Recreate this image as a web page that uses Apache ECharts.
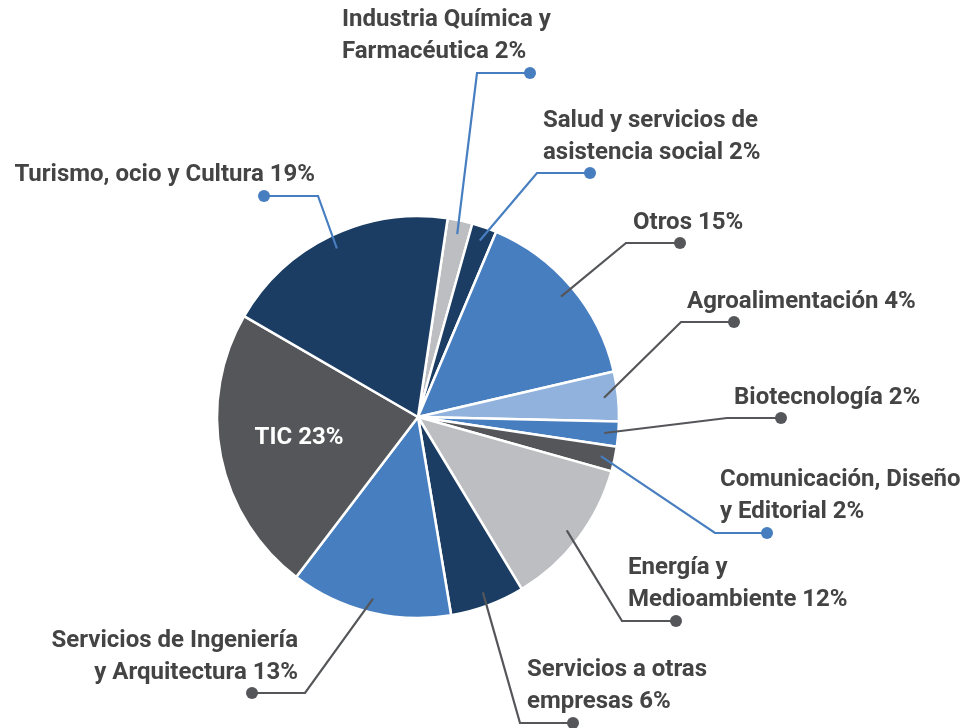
<!DOCTYPE html>
<html><head><meta charset="utf-8">
<script src="https://cdn.jsdelivr.net/npm/echarts@6/dist/echarts.min.js"></script>
<style>html,body{margin:0;padding:0;background:#fff}#c{width:968px;height:728px}</style>
</head><body><div id="c"></div>
<script>
// ---- data ----
const categories = ['Industria Química y Farmacéutica', 'Salud y servicios de asistencia social', 'Otros', 'Agroalimentación', 'Biotecnología', 'Comunicación, Diseño y Editorial', 'Energía y Medioambiente', 'Servicios a otras empresas', 'Servicios de Ingeniería y Arquitectura', 'TIC', 'Turismo, ocio y Cultura'];
const values = [2, 2, 15, 4, 2, 2, 12, 6, 13, 23, 19];
const labelTexts = ['Industria Química y\nFarmacéutica', 'Salud y servicios de\nasistencia social', 'Otros', 'Agroalimentación', 'Biotecnología', 'Comunicación, Diseño\ny Editorial', 'Energía y\nMedioambiente', 'Servicios a otras\nempresas', 'Servicios de Ingeniería\ny Arquitectura', 'TIC', 'Turismo, ocio y Cultura'];

// ---- styles / layout ----
const NAVY = '#1b3d63', BLUE = '#477ec0', DGRAY = '#555659', LGRAY = '#bdbec1', LBLUE = '#90b2dc';
const sliceColors = [LGRAY, NAVY, BLUE, LBLUE, BLUE, DGRAY, LGRAY, NAVY, BLUE, DGRAY, NAVY];
const lineColors = [BLUE, BLUE, DGRAY, DGRAY, DGRAY, BLUE, DGRAY, DGRAY, DGRAY, null, BLUE];
const labelAnchors = [
  [342, 68, 'left'], [543, 169, 'left'], [633, 239, 'left'], [687, 318, 'left'],
  [734, 414, 'left'], [720, 528, 'left'], [628, 616, 'left'], [527, 718, 'left'],
  [298, 689, 'right'], [299, 438, 'center'], [315, 191, 'right']
];
const elbows = [[477,73],[537,173],[626,243],[681,322],[727,418],[715,533],[622,621],[520,723],[305,693],null,[318,196]];
const dots = [[530,73],[590,173],[680,243],[734,322],[781,418],[767,533],[676,621],[573,723],[252,693],null,[264,196]];

const chart = echarts.init(document.getElementById('c'), null, {renderer: 'canvas'});
const seriesData = categories.map((name, i) => ({
  name: name,
  value: values[i],
  itemStyle: {color: sliceColors[i]},
  label: {
    formatter: labelTexts[i] + ' ' + values[i] + '%',
    color: i === 9 ? '#ffffff' : '#444444'
  }
}));

const option = {
  animation: false,
  backgroundColor: '#ffffff',
  series: [{
    type: 'pie',
    center: [418, 417],
    radius: 201,
    startAngle: 81.5,
    clockwise: true,
    avoidLabelOverlap: false,
    itemStyle: {borderColor: '#ffffff', borderWidth: 2.5},
    label: {
      show: true,
      position: 'inside',
      fontFamily: 'Roboto',
      fontWeight: 'bold',
      fontSize: 24,
      lineHeight: 32
    },
    labelLine: {show: false},
    labelLayout: function (params) {
      const a = labelAnchors[params.dataIndex];
      return {
        x: a[0], y: a[1], align: a[2],
        verticalAlign: a[2] === 'center' ? 'middle' : 'bottom'
      };
    },
    emphasis: {disabled: true},
    data: seriesData
  }]
};
chart.setOption(option);

// label lines with end dots, starting inside each slice (from the pie's own layout)
const pieData = chart.getModel().getSeriesByIndex(0).getData();
const graphics = [];
for (let i = 0; i < values.length; i++) {
  if (!lineColors[i]) continue;
  const L = pieData.getItemLayout(i);
  const mid = (L.startAngle + L.endAngle) / 2;
  const r0 = L.r - 14;
  const sx = L.cx + Math.cos(mid) * r0, sy = L.cy + Math.sin(mid) * r0;
  graphics.push({
    type: 'polyline', z: 100,
    shape: {points: [[sx, sy], elbows[i], dots[i]]},
    style: {stroke: lineColors[i], lineWidth: 2.2, fill: null}
  });
  graphics.push({
    type: 'circle', z: 101,
    shape: {cx: dots[i][0], cy: dots[i][1], r: 6},
    style: {fill: lineColors[i]}
  });
}
chart.setOption({graphic: graphics});
</script>
</body></html>
